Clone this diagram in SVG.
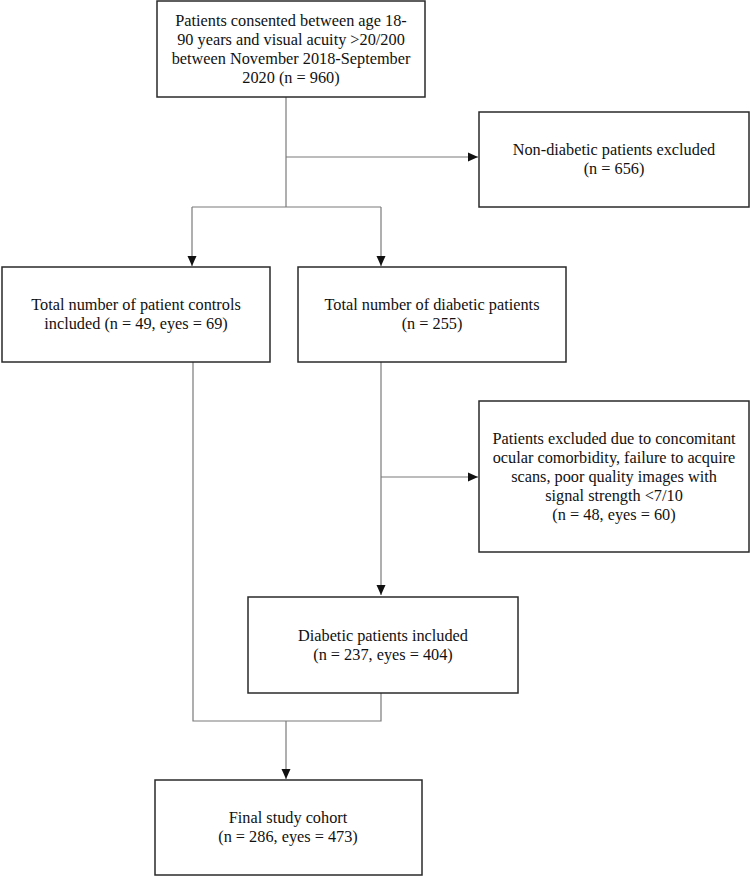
<svg xmlns="http://www.w3.org/2000/svg" width="750" height="877" viewBox="0 0 750 877">
<style>
.box{fill:#fff;stroke:#2a2a2a;stroke-width:1.5}
.c{fill:none;stroke:#7a7a7a;stroke-width:1.2}
</style>
<defs>
<marker id="ah" markerUnits="userSpaceOnUse" markerWidth="10" markerHeight="10" refX="10" refY="5" orient="auto">
<path d="M0,0.5 L10,5 L0,9.5 z" fill="#111"/>
</marker>
</defs>
<rect width="750" height="877" fill="#fff"/>
<g id="connectors">
<path class="c" d="M286,97 V207"/>
<path class="c" d="M286,157 H478" marker-end="url(#ah)"/>
<path class="c" d="M192,207 H381"/>
<path class="c" d="M192,207 V266" marker-end="url(#ah)"/>
<path class="c" d="M381,207 V266" marker-end="url(#ah)"/>
<path class="c" d="M381,362 V595" marker-end="url(#ah)"/>
<path class="c" d="M381,477 H478" marker-end="url(#ah)"/>
<path class="c" d="M193,362 V721 H381 V693"/>
<path class="c" d="M286,721 V779" marker-end="url(#ah)"/>
</g>
<g font-family="'Liberation Serif', 'DejaVu Serif', serif" font-size="16.3" fill="#111" text-anchor="middle">
<g id="n_consented">
<rect class="box" x="157" y="1" width="268" height="96"/>
<text x="291" y="25.5">Patients consented between age 18-</text>
<text x="291" y="44.5">90 years and visual acuity &gt;20/200</text>
<text x="291" y="63.5">between November 2018-September</text>
<text x="291" y="82.5">2020 (n = 960)</text>
</g>
<g id="n_nondiabetic">
<rect class="box" x="479" y="112" width="270" height="95"/>
<text x="614" y="155">Non-diabetic patients excluded</text>
<text x="614" y="174">(n = 656)</text>
</g>
<g id="n_controls">
<rect class="box" x="2" y="267" width="268" height="95"/>
<text x="136" y="310">Total number of patient controls</text>
<text x="136" y="329">included (n = 49, eyes = 69)</text>
</g>
<g id="n_diabetic">
<rect class="box" x="298" y="267" width="268" height="95"/>
<text x="432" y="310">Total number of diabetic patients</text>
<text x="432" y="329">(n = 255)</text>
</g>
<g id="n_excluded">
<rect class="box" x="479" y="401" width="270" height="151"/>
<text x="614" y="443.5">Patients excluded due to concomitant</text>
<text x="614" y="462.5">ocular comorbidity, failure to acquire</text>
<text x="614" y="481.5">scans, poor quality images with</text>
<text x="614" y="500.5">signal strength &lt;7/10</text>
<text x="614" y="519.5">(n = 48, eyes = 60)</text>
</g>
<g id="n_included">
<rect class="box" x="248" y="597" width="270" height="96"/>
<text x="383" y="640.5">Diabetic patients included</text>
<text x="383" y="659.5">(n = 237, eyes = 404)</text>
</g>
<g id="n_final">
<rect class="box" x="155" y="780" width="267" height="95"/>
<text x="288" y="823">Final study cohort</text>
<text x="288" y="842">(n = 286, eyes = 473)</text>
</g>
</g>
</svg>
